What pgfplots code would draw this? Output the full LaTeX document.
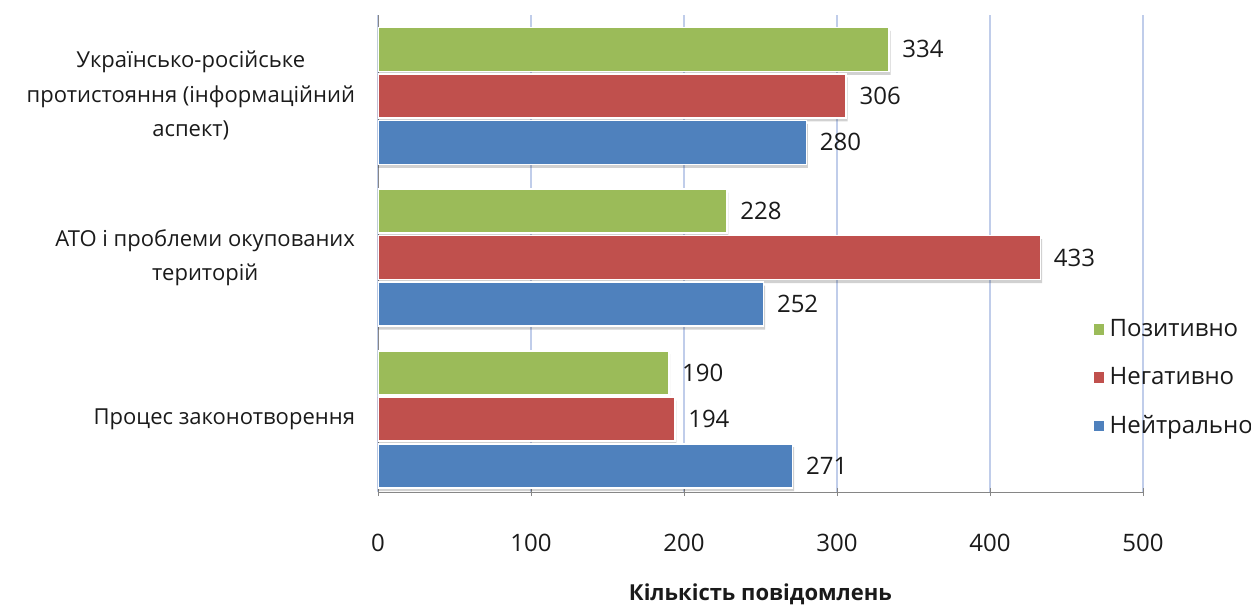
\documentclass[border=0pt]{standalone}
\usepackage{pgfplots}
\pgfplotsset{compat=1.18}
\usepackage{fontspec}
\setmainfont{Open Sans}
\definecolor{pos}{HTML}{9BBB59}
\definecolor{neg}{HTML}{C0504D}
\definecolor{neu}{HTML}{4F81BD}
\definecolor{gridc}{HTML}{C0CDEA}
\definecolor{axc}{HTML}{868686}
\definecolor{txt}{HTML}{1A1A1A}
\newcommand{\lbl}{\fontsize{12}{17.25}\selectfont}
\newcommand{\cat}{\fontsize{11}{17.25}\selectfont}
\pgfplotsset{
    shade/.style={fill=black, draw=none, opacity=0.18, forget plot},
    val/.style={nodes near coords,
        nodes near coords style={font=\lbl, text=txt, anchor=west, xshift=3pt}},
}
\begin{document}
\begin{tikzpicture}
\useasboundingbox (-189pt,-57pt) rectangle (436.5pt,246pt);
\begin{axis}[
    scale only axis,
    width=382.5pt, height=238.5pt,
    xbar, bar width=22pt,
    xmin=0, xmax=500, ymin=-0.45, ymax=2.5,
    xtick={0,100,...,500},
    ytick={0,1,2},
    yticklabels={Процес законотворення,
        {АТО і проблеми окупованих\\територій},
        {Українсько-російське\\протистояння (інформаційний\\аспект)}},
    yticklabel style={align=center, font=\cat, text=txt, xshift=-6pt},
    xticklabel style={font=\lbl, text=txt, yshift=-15.5pt},
    ytick style={draw=none},
    xtick style={axc},
    tick align=outside, major tick length=4pt,
    axis x line=bottom, axis y line=left,
    axis line style={-, axc},
    xmajorgrids, grid style={gridc, line width=0.9pt},
    /pgf/number format/assume math mode=true,
    xlabel={\bfseries Кількість повідомлень},
    xlabel style={font=\cat, text=txt, yshift=-9pt},
    legend style={at={(0.925,0.239)}, anchor=west, draw=none, fill=none,
        font=\lbl, text=txt, row sep=10pt, legend cell align=left},
    legend image code/.code={\fill[#1] (0pt,-3pt) rectangle (6pt,3pt);},
]
% soft shadows under the bars
\addplot[shade, bar shift=21.5pt] coordinates {(191,0) (229,1) (335,2)};
\addplot[shade, bar shift=-1.75pt] coordinates {(195,0) (434,1) (307,2)};
\addplot[shade, bar shift=-25pt] coordinates {(272,0) (253,1) (281,2)};

\addplot[val, fill=pos, draw=white, line width=0.8pt, bar shift=23.25pt]
    coordinates {(190,0) (228,1) (334,2)};
\addplot[val, fill=neg, draw=white, line width=0.8pt, bar shift=0pt]
    coordinates {(194,0) (433,1) (306,2)};
\addplot[val, fill=neu, draw=white, line width=0.8pt, bar shift=-23.25pt]
    coordinates {(271,0) (252,1) (280,2)};
\legend{Позитивно, Негативно, Нейтрально}
\end{axis}
\end{tikzpicture}
\end{document}
